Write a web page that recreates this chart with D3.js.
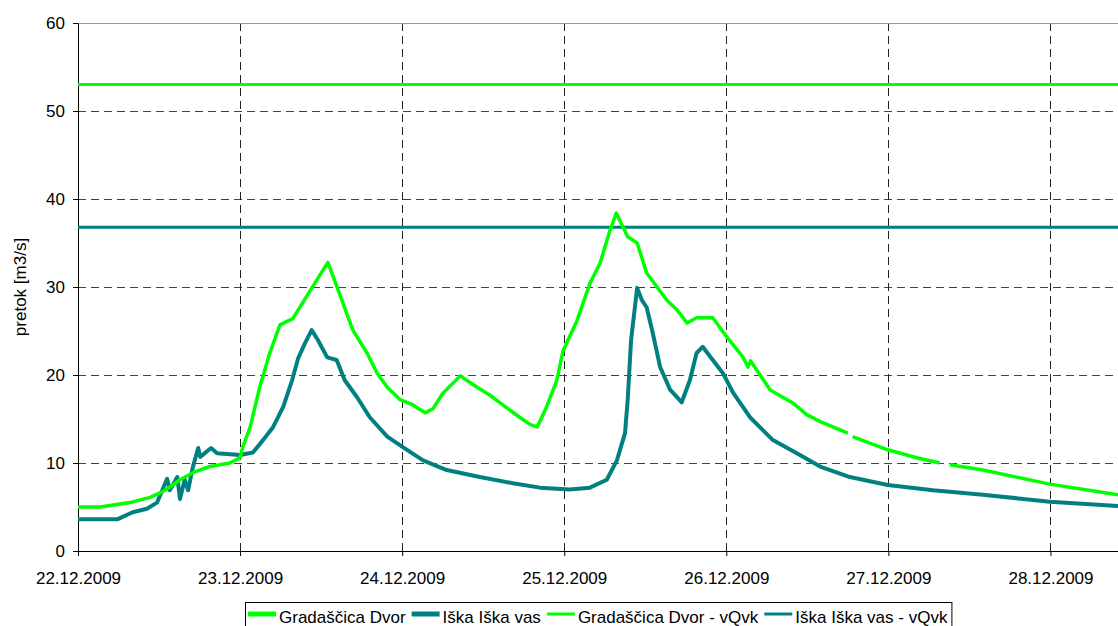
<!DOCTYPE html>
<html>
<head>
<meta charset="utf-8">
<script src="https://cdn.jsdelivr.net/npm/d3@7"></script>
<style>
  body { margin: 0; background: #fff; }
  svg { display: block; font-family: "Liberation Sans", Arial, sans-serif; }
</style>
</head>
<body>
<div id="chart"></div>
<script>
// hours since 22.12.2009 00:00 and flow [m3/s] (null = gap)
var gradHours = [0, 3.3, 7.7, 10.7, 12.9, 15.1, 17.3, 19.5, 22.5, 24.0, 24.4, 25.5, 26.9, 28.4, 29.9, 31.8,
  37.0, 38.5, 40.7, 42.8, 44.3, 45.8, 47.7, 49.6, 51.4, 52.6, 54.0, 56.6, 59.1, 61.0, 62.9, 65.4, 66.9, 68.0,
  69.4, 70.9, 71.8, 73.9, 75.8, 77.3, 78.8, 79.7, 81.4, 82.8, 84.2, 87.2, 88.7, 90.2, 91.6, 94.0, 96.1, 98.5,
  99.2, 99.6, 102.5, 105.9, 107.9, 109.9, 114.0, 114.3, 114.7, 119.9, 124.2, 127.6, 128.3, 129.1, 134.0, 143.9, 154.0];
var gradValues = [5.0, 5.0, 5.5, 6.1, 6.9, 8.1, 9.0, 9.6, 10.0, 10.6, 11.8, 14.1, 18.6, 22.5, 25.7, 26.4,
  32.8, 29.7, 25.1, 22.5, 20.2, 18.6, 17.2, 16.6, 15.7, 16.2, 17.9, 19.9, 18.6, 17.7, 16.6, 15.2, 14.4, 14.1,
  16.4, 19.4, 22.7, 26.2, 30.4, 32.7, 36.5, 38.4, 35.7, 35.0, 31.6, 28.5, 27.4, 25.9, 26.5, 26.5, 24.3, 22.0,
  20.9, 21.6, 18.3, 16.8, 15.5, 14.7, 13.4, null, 13.0, 11.5, 10.6, 10.0, null, 9.8, 9.2, 7.6, 6.4];

var iskaHours = [0, 5.8, 8.1, 10.2, 11.7, 13.2, 13.6, 14.7, 15.1, 15.8, 16.3, 17.0, 17.8, 18.1, 19.7, 20.6,
  24.0, 25.9, 27.4, 28.9, 30.4, 31.7, 32.6, 33.6, 34.6, 35.5, 36.9, 38.3, 39.5, 41.3, 43.2, 45.8, 48.1, 51.1,
  54.6, 59.5, 64.4, 68.4, 72.8, 75.8, 78.3, 79.8, 81.0, 81.4, 81.9, 82.8, 83.5, 84.2, 85.1, 86.2, 87.7, 89.4,
  90.6, 91.6, 92.5, 94.0, 95.5, 97.0, 99.5, 102.9, 106.9, 109.9, 114.3, 119.9, 126.6, 134.0, 143.9, 154.0];
var iskaValues = [3.6, 3.6, 4.4, 4.8, 5.5, 8.2, 6.9, 8.4, 5.9, 8.1, 6.9, 9.5, 11.7, 10.7, 11.7, 11.1,
  10.9, 11.2, 12.6, 14.1, 16.4, 19.4, 21.9, 23.6, 25.1, 24.0, 22.0, 21.7, 19.4, 17.5, 15.2, 13.0, 11.8, 10.3,
  9.2, 8.4, 7.7, 7.2, 7.0, 7.2, 8.1, 10.3, 13.4, 17.2, 24.0, 29.9, 28.5, 27.7, 24.8, 20.9, 18.3, 16.9,
  19.4, 22.5, 23.2, 21.7, 20.2, 18.0, 15.2, 12.6, 10.9, 9.6, 8.4, 7.5, 6.9, 6.4, 5.6, 5.1];

// warning levels (vQvk)
var gradVQvk = 53.0;
var iskaVQvk = 36.8;

var dayTicks = ["22.12.2009", "23.12.2009", "24.12.2009", "25.12.2009", "26.12.2009", "27.12.2009", "28.12.2009"];
var yTicks = [0, 10, 20, 30, 40, 50, 60];

var seriesNames = ["Gradaščica Dvor", "Iška Iška vas", "Gradaščica Dvor - vQvk", "Iška Iška vas - vQvk"];
var green = "#00ff00", teal = "#008080";

var width = 1118, height = 626;
var margin = {top: 23, right: 0, bottom: 75, left: 78};
var w = width - margin.left - margin.right,
    h = height - margin.top - margin.bottom;
var fontSize = 17;

var start = new Date(2009, 11, 22, 0, 0);
function toDate(hrs) { return new Date(start.getTime() + hrs * 3600000); }
var tickDates = dayTicks.map(function(s) {
  var p = s.split(".");
  return new Date(+p[2], +p[1] - 1, +p[0]);
});

var x = d3.scaleTime()
    .domain([start, toDate(154.0)])
    .range([0, w]);
var y = d3.scaleLinear()
    .domain([0, 60])
    .range([h, 0]);

var svg = d3.select("#chart").append("svg")
    .attr("width", width)
    .attr("height", height);

var g = svg.append("g")
    .attr("transform", "translate(" + margin.left + "," + margin.top + ")");

svg.append("defs").append("clipPath").attr("id", "plot")
  .append("rect").attr("width", w).attr("height", h + 2).attr("y", -1);

// grid
g.selectAll(".hgrid")
  .data(yTicks.filter(function(d) { return d > 0; }))
  .enter().append("line")
    .attr("x1", 0).attr("x2", w)
    .attr("y1", function(d) { return y(d) + 0.5; })
    .attr("y2", function(d) { return y(d) + 0.5; })
    .attr("stroke", "#444")
    .attr("stroke-dasharray", "8,5");
g.selectAll(".vgrid")
  .data(tickDates.slice(1))
  .enter().append("line")
    .attr("x1", function(d) { return Math.round(x(d)) + 0.5; })
    .attr("x2", function(d) { return Math.round(x(d)) + 0.5; })
    .attr("y1", 0).attr("y2", h)
    .attr("stroke", "#222")
    .attr("stroke-dasharray", "8,5");
g.append("line")
  .attr("x1", 0).attr("x2", w).attr("y1", 0.5).attr("y2", 0.5)
  .attr("stroke", "#999");

// axes
var xAxis = g.append("g")
    .attr("transform", "translate(0," + h + ")")
    .call(d3.axisBottom(x).tickValues(tickDates).tickSize(5).tickSizeOuter(0)
      .tickFormat(function(d, i) { return dayTicks[i]; }));
var yAxis = g.append("g")
    .call(d3.axisLeft(y).tickValues(yTicks).tickSize(5).tickSizeOuter(0));
[xAxis, yAxis].forEach(function(a) {
  a.selectAll("text").attr("font-size", fontSize).attr("fill", "#000")
    .attr("font-family", "'Liberation Sans', Arial, sans-serif");
  a.select(".domain").attr("stroke", "#000");
  a.selectAll(".tick line").attr("stroke", "#000");
});
xAxis.selectAll("text").attr("y", 21);
yAxis.selectAll("text").attr("x", -13);

svg.append("text")
  .attr("transform", "translate(26," + (margin.top + h / 2) + ") rotate(-90)")
  .attr("text-anchor", "middle")
  .attr("font-size", fontSize)
  .text("pretok [m3/s]");

// series
var plot = g.append("g").attr("clip-path", "url(#plot)");
var line = d3.line()
    .defined(function(d) { return d[1] != null; })
    .x(function(d) { return x(toDate(d[0])); })
    .y(function(d) { return y(d[1]); });

plot.append("line")
  .attr("x1", 0).attr("x2", w)
  .attr("y1", y(gradVQvk)).attr("y2", y(gradVQvk))
  .attr("stroke", green).attr("stroke-width", 3);
plot.append("line")
  .attr("x1", 0).attr("x2", w)
  .attr("y1", y(iskaVQvk)).attr("y2", y(iskaVQvk))
  .attr("stroke", teal).attr("stroke-width", 3);

plot.append("path")
  .datum(iskaHours.map(function(t, i) { return [t, iskaValues[i]]; }))
  .attr("fill", "none").attr("stroke", teal).attr("stroke-width", 4)
  .attr("stroke-linejoin", "round")
  .attr("d", line);
plot.append("path")
  .datum(gradHours.map(function(t, i) { return [t, gradValues[i]]; }))
  .attr("fill", "none").attr("stroke", green).attr("stroke-width", 3.5)
  .attr("stroke-linejoin", "round")
  .attr("d", line);

// legend
var legend = svg.append("g").attr("transform", "translate(245,602)");
var legColors = [green, teal, green, teal];
var legWidths = [5, 5, 3, 3];
var lx = 3;
seriesNames.forEach(function(name, i) {
  legend.append("line")
    .attr("x1", lx).attr("x2", lx + 28)
    .attr("y1", 12).attr("y2", 12)
    .attr("stroke", legColors[i]).attr("stroke-width", legWidths[i]);
  var t = legend.append("text")
    .attr("x", lx + 31).attr("y", 21)
    .attr("font-size", fontSize)
    .text(name);
  lx += 31 + t.node().getComputedTextLength() + 6;
});
legend.insert("rect", ":first-child")
  .attr("x", 0.5).attr("y", 0.5)
  .attr("width", lx - 2).attr("height", 40)
  .attr("fill", "#fff").attr("stroke", "#000");
</script>
</body>
</html>
